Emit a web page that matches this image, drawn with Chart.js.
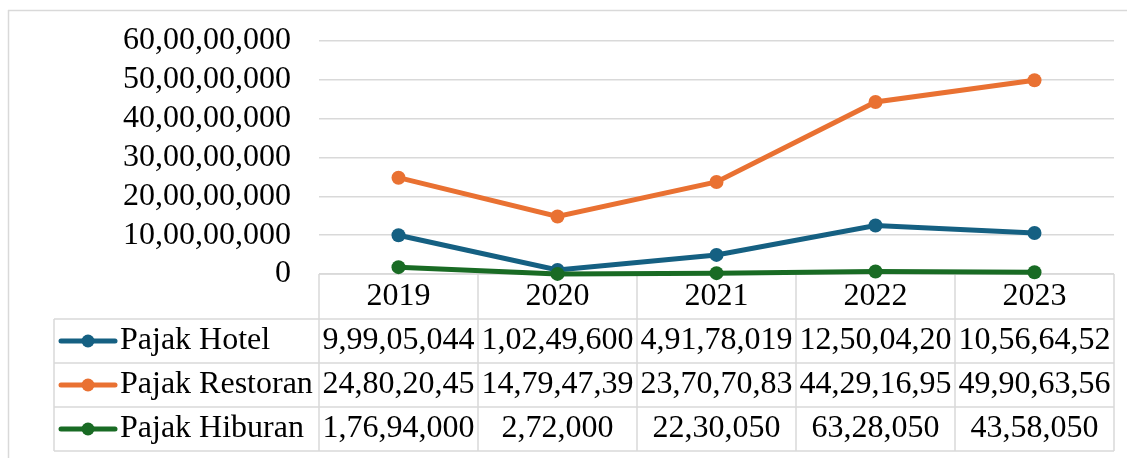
<!DOCTYPE html>
<html>
<head>
<meta charset="utf-8">
<script src="https://cdn.jsdelivr.net/npm/chart.js@4.4.1/dist/chart.umd.min.js"></script>
<style>
  html, body { margin: 0; padding: 0; background: #ffffff; }
  #wrap { width: 1127px; height: 458px; }
</style>
</head>
<body>
<div id="wrap"><canvas id="c" width="1127" height="458"></canvas></div>
<script>
const categories = ['2019', '2020', '2021', '2022', '2023'];
const seriesNames = ['Pajak Hotel', 'Pajak Restoran', 'Pajak Hiburan'];
const pajakHotel = [99905044, 10249600, 49178019, 125004200, 105664520];
const pajakRestoran = [248020450, 147947390, 237070830, 442916950, 499063560];
const pajakHiburan = [17694000, 272000, 2230050, 6328050, 4358050];
const yMin = 0;
const yMax = 600000000;
const yStep = 100000000;

const colors = ['#156082', '#E97132', '#196B24'];
const FONT = '"Liberation Serif", "Times New Roman", serif';
const FONT_SIZE = 32;
const GRID = '#d9d9d9';

function indianFormat(n) {
  const s = String(Math.round(n));
  if (s.length <= 3) return s;
  let last3 = s.slice(-3);
  let rest = s.slice(0, -3);
  const parts = [];
  while (rest.length > 2) {
    parts.unshift(rest.slice(-2));
    rest = rest.slice(0, -2);
  }
  if (rest.length) parts.unshift(rest);
  return parts.join(',') + ',' + last3;
}

const allSeries = [pajakHotel, pajakRestoran, pajakHiburan];

const tablePlugin = {
  id: 'dataTable',
  beforeDraw(chart) {
    const ctx = chart.ctx;
    ctx.save();
    ctx.strokeStyle = GRID;
    ctx.lineWidth = 1.5;
    ctx.beginPath();
    ctx.moveTo(8, 10.5);
    ctx.lineTo(1127, 10.5);
    ctx.moveTo(8.5, 10);
    ctx.lineTo(8.5, 458);
    ctx.stroke();
    ctx.restore();
  },
  beforeDatasetsDraw(chart) {
    const ctx = chart.ctx;
    const xs = chart.scales.x;
    const area = chart.chartArea;
    const n = categories.length;
    const bw = (area.right - area.left) / n;
    const top = area.bottom;
    const headerH = 45;
    const rowH = 44;
    const legendLeft = 54;
    const rowsTop = top + headerH;
    const bottom = rowsTop + rowH * allSeries.length;

    ctx.save();
    ctx.strokeStyle = GRID;
    ctx.lineWidth = 1.5;
    ctx.beginPath();
    ctx.moveTo(area.left, top);
    ctx.lineTo(area.right, top);
    for (let r = 0; r <= allSeries.length; r++) {
      const y = rowsTop + r * rowH;
      ctx.moveTo(legendLeft, y);
      ctx.lineTo(area.right, y);
    }
    for (let i = 0; i <= n; i++) {
      const x = area.left + i * bw;
      ctx.moveTo(x, top);
      ctx.lineTo(x, bottom);
    }
    ctx.moveTo(legendLeft, rowsTop);
    ctx.lineTo(legendLeft, bottom);
    ctx.stroke();

    ctx.fillStyle = '#000000';
    ctx.font = FONT_SIZE + 'px ' + FONT;
    ctx.textBaseline = 'middle';
    ctx.textAlign = 'center';
    categories.forEach((c, i) => {
      const cx = xs.getPixelForValue(i);
      ctx.fillText(c, cx, top + headerH / 2);
    });

    allSeries.forEach((data, r) => {
      const cy = rowsTop + r * rowH + rowH / 2;
      ctx.strokeStyle = colors[r];
      ctx.lineWidth = 5;
      ctx.lineCap = 'round';
      ctx.beginPath();
      ctx.moveTo(61, cy);
      ctx.lineTo(115, cy);
      ctx.stroke();
      ctx.fillStyle = colors[r];
      ctx.beginPath();
      ctx.arc(88, cy, 6.5, 0, Math.PI * 2);
      ctx.fill();
      ctx.fillStyle = '#000000';
      ctx.textAlign = 'left';
      ctx.fillText(seriesNames[r], 120, cy);
      ctx.textAlign = 'center';
      data.forEach((v, i) => {
        let txt = indianFormat(v);
        while (txt.length > 1 && ctx.measureText(txt).width > bw - 4) {
          txt = txt.slice(0, -1);
        }
        const cx = xs.getPixelForValue(i);
        ctx.fillText(txt, cx, cy);
      });
    });
    ctx.restore();
  }
};

const datasets = allSeries.map((data, i) => ({
  label: seriesNames[i],
  data: data,
  borderColor: colors[i],
  backgroundColor: colors[i],
  pointBackgroundColor: colors[i],
  pointBorderColor: colors[i],
  pointBorderWidth: 0,
  pointRadius: 7,
  borderWidth: 5,
  tension: 0,
  clip: false,
  order: 3 - i
}));

new Chart(document.getElementById('c'), {
  type: 'line',
  data: { labels: categories, datasets: datasets },
  plugins: [tablePlugin],
  options: {
    responsive: false,
    devicePixelRatio: 1,
    animation: false,
    events: [],
    layout: { padding: { left: 0, right: 13, top: 41, bottom: 184 } },
    plugins: { legend: { display: false }, tooltip: { enabled: false } },
    scales: {
      x: {
        type: 'category',
        offset: true,
        display: false,
        grid: { display: false }
      },
      y: {
        min: yMin,
        max: yMax,
        afterFit(scale) {
          scale.width = 319;
          scale.paddingTop = 0;
          scale.paddingBottom = 0;
        },
        border: { display: false },
        grid: { color: GRID, lineWidth: 1.5, drawTicks: false },
        ticks: {
          stepSize: yStep,
          autoSkip: false,
          padding: 28,
          color: '#000000',
          font: { family: FONT, size: FONT_SIZE },
          callback: (v) => indianFormat(v)
        }
      }
    }
  }
});
</script>
</body>
</html>
